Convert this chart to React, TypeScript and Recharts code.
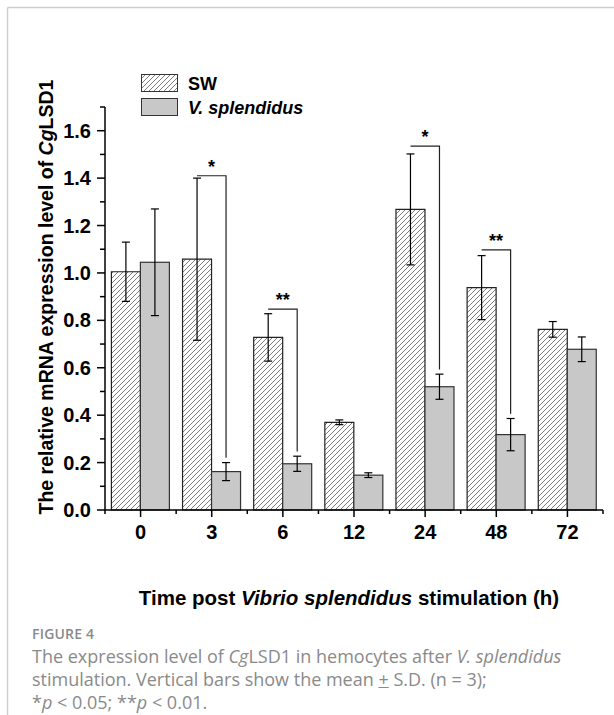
import React from "react";
import { BarChart, Bar, XAxis, YAxis, ErrorBar } from "recharts";

const categories = ["0", "3", "6", "12", "24", "48", "72"];
const swMean = [1.005, 1.058, 0.728, 0.37, 1.268, 0.938, 0.762];
const swSd = [0.125, 0.342, 0.1, 0.01, 0.234, 0.135, 0.033];
const vsMean = [1.045, 0.162, 0.195, 0.147, 0.52, 0.318, 0.678];
const vsSd = [0.225, 0.038, 0.032, 0.01, 0.053, 0.068, 0.052];
const sigMarks = ["", "*", "**", "", "*", "**", ""];
const bracketLevels = [null, 1.41, 0.847, null, 1.535, 1.097, null];
const yTicks = [0, 0.1, 0.2, 0.3, 0.4, 0.5, 0.6, 0.7, 0.8, 0.9, 1.0, 1.1, 1.2, 1.3, 1.4, 1.5, 1.6, 1.7];

const data = categories.map((c, i) => ({
  time: c,
  sw: swMean[i],
  swErr: swSd[i],
  vs: vsMean[i],
  vsErr: vsSd[i],
  sig: sigMarks[i],
  level: bracketLevels[i],
}));

const FONT = "Arial, 'Liberation Sans', sans-serif";
const W = 614;
const H = 560;
const MARGIN = { top: 107, right: 11, bottom: 20, left: 45 };
const Y_AXIS_W = 60;
const BAND = (W - MARGIN.left - Y_AXIS_W - MARGIN.right) / categories.length;

function YTick({ x, y, payload }: any) {
  const v = payload.value;
  const major = Math.round(v * 10) % 2 === 0 && v < 1.65;
  return (
    <g>
      <line x1={x - (major ? 8 : 5)} x2={x} y1={y} y2={y} stroke="#000" strokeWidth={1.5} />
      {major && (
        <text x={x - 14} y={y + 7} textAnchor="end" fontFamily={FONT} fontWeight="bold" fontSize={20} fill="#000">
          {v.toFixed(1)}
        </text>
      )}
    </g>
  );
}

function XTick({ x, y, payload, index }: any) {
  const last = index === categories.length - 1;
  return (
    <g>
      <line x1={x} x2={x} y1={y} y2={y + 7} stroke="#000" strokeWidth={1.5} />
      <line x1={x - BAND / 2} x2={x - BAND / 2} y1={y} y2={y + 4} stroke="#000" strokeWidth={1.5} />
      {last && <line x1={x + BAND / 2} x2={x + BAND / 2} y1={y} y2={y + 4} stroke="#000" strokeWidth={1.5} />}
      <text x={x} y={y + 29} textAnchor="middle" fontFamily={FONT} fontWeight="bold" fontSize={20} fill="#000">
        {payload.value}
      </text>
    </g>
  );
}

// grey bar + significance bracket from the SW error bar top to the V. splendidus bar
function VsShape(props: any) {
  const { x, y, width, height, payload } = props;
  const rect = <rect x={x} y={y} width={width} height={height} fill="#c8c8c8" stroke="#333" strokeWidth={1.2} />;
  if (payload.level == null) return rect;
  const base = y + height;
  const k = height / payload.vs;
  const by = base - payload.level * k;
  const vEnd = base - (payload.vs + payload.vsErr + 0.02) * k;
  const sx = x - width / 2;
  const cx = x + width / 2;
  return (
    <g>
      {rect}
      <polyline points={`${sx},${by} ${cx},${by} ${cx},${vEnd}`} fill="none" stroke="#222" strokeWidth={1.2} />
      <text x={x} y={by - 3} textAnchor="middle" fontFamily={FONT} fontWeight="bold" fontSize={18} fill="#000">
        {payload.sig}
      </text>
    </g>
  );
}

export default function App() {
  return (
    <div style={{ position: "relative", width: W, height: 715, background: "#fff", overflow: "hidden" }}>
      <style>{"body{margin:0}"}</style>
      <BarChart width={W} height={H} data={data} margin={MARGIN} barCategoryGap="9%" barGap={0}>
        <XAxis dataKey="time" height={30} tickSize={0} tickMargin={0} axisLine={{ stroke: "#000", strokeWidth: 1.5 }} tick={<XTick />} interval={0} />
        <YAxis
          width={Y_AXIS_W}
          domain={[0, 1.7]}
          ticks={yTicks}
          tickSize={0}
          tickMargin={0}
          axisLine={{ stroke: "#000", strokeWidth: 1.5 }}
          tick={<YTick />}
          interval={0}
        />
        <Bar dataKey="sw" fill="url(#hatch)" stroke="#222" strokeWidth={1.2} isAnimationActive={false}>
          <ErrorBar dataKey="swErr" width={4} stroke="#000" strokeWidth={1.2} direction="y" />
        </Bar>
        <Bar dataKey="vs" fill="#c8c8c8" shape={<VsShape />} isAnimationActive={false}>
          <ErrorBar dataKey="vsErr" width={4} stroke="#000" strokeWidth={1.2} direction="y" />
        </Bar>
      </BarChart>

      <svg width={W} height={715} style={{ position: "absolute", left: 0, top: 0, pointerEvents: "none" }}>
        <defs>
          <pattern id="hatch" patternUnits="userSpaceOnUse" width={5} height={5}>
            <rect width={5} height={5} fill="#fff" />
            <path d="M0,5 L5,0 M-1.25,1.25 L1.25,-1.25 M3.75,6.25 L6.25,3.75" stroke="#444" strokeWidth={0.7} />
          </pattern>
        </defs>
        <line x1={7.5} x2={W} y1={7.5} y2={7.5} stroke="#cfcfcf" strokeWidth={1.5} />
        <line x1={7.5} x2={7.5} y1={7.5} y2={715} stroke="#cfcfcf" strokeWidth={1.5} />

        <rect x={141.5} y={74.5} width={36} height={17} fill="url(#hatch)" stroke="#333" strokeWidth={1} />
        <text x={188} y={90} fontFamily={FONT} fontWeight="bold" fontSize={18} fill="#000">SW</text>
        <rect x={141.5} y={98.5} width={36} height={17} fill="#c8c8c8" stroke="#333" strokeWidth={1} />
        <text x={188} y={114} fontFamily={FONT} fontWeight="bold" fontStyle="italic" fontSize={18} fill="#000">V. splendidus</text>

        <text transform="translate(53,297) rotate(-90)" textAnchor="middle" fontFamily={FONT} fontWeight="bold" fontSize={19.5} fill="#000">
          The relative mRNA expression level of <tspan fontStyle="italic">Cg</tspan>LSD1
        </text>
        <text x={349} y={605} textAnchor="middle" fontFamily={FONT} fontWeight="bold" fontSize={20.5} fill="#000">
          Time post <tspan fontStyle="italic">Vibrio splendidus</tspan> stimulation (h)
        </text>
      </svg>

      <div style={{ position: "absolute", left: 32, top: 625, fontFamily: "'Open Sans', sans-serif", color: "#8a8a8a" }}>
        <div style={{ fontSize: 14, fontWeight: 600, lineHeight: "18px", letterSpacing: 0.2 }}>FIGURE 4</div>
        <div style={{ fontSize: 18, lineHeight: "23px", marginTop: 2 }}>
          The expression level of <i>Cg</i>LSD1 in hemocytes after <i>V. splendidus</i>
          <br />
          stimulation. Vertical bars show the mean <span style={{ textDecoration: "underline" }}>+</span> S.D. (n = 3);
          <br />*<i>p</i> &lt; 0.05; **<i>p</i> &lt; 0.01.
        </div>
      </div>
    </div>
  );
}
